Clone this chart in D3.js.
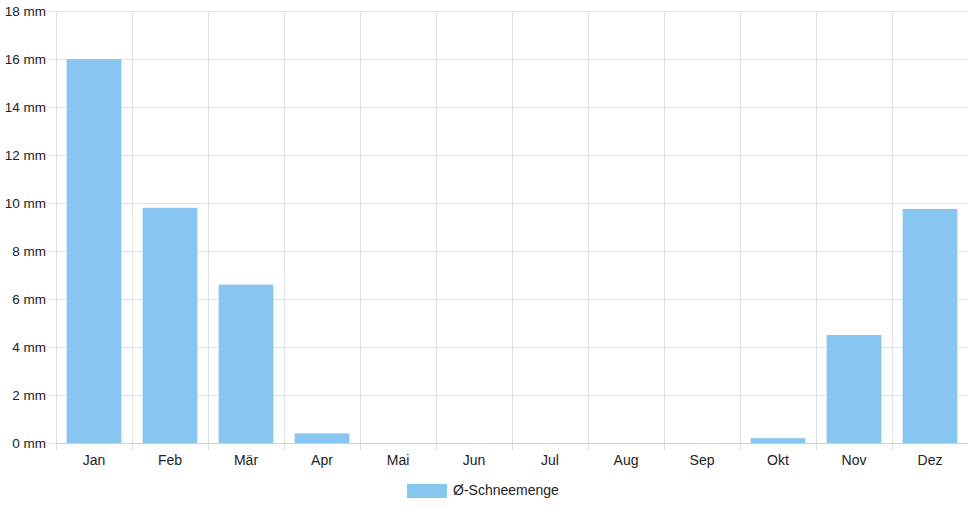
<!DOCTYPE html>
<html>
<head>
<meta charset="utf-8">
<script src="https://cdn.jsdelivr.net/npm/d3@7"></script>
<style>
  body { margin: 0; background: #fff; }
  text { font-family: "Liberation Sans", Arial, sans-serif; fill: #222; }
</style>
</head>
<body>
<div id="chart"></div>
<script>
// Monthly snow amounts
const months = ['Jan', 'Feb', 'Mär', 'Apr', 'Mai', 'Jun', 'Jul', 'Aug', 'Sep', 'Okt', 'Nov', 'Dez'];
const snow = [16.0, 9.8, 6.6, 0.4, 0, 0, 0, 0, 0, 0.2, 4.5, 9.75];
const yTicks = [0, 2, 4, 6, 8, 10, 12, 14, 16, 18];
const seriesName = 'Ø-Schneemenge';

const width = 968;
const height = 508;
const margin = { top: 11, right: 0, bottom: 65, left: 56 };
const barColor = '#88c6f2';
const gridColor = '#e3e3e3';

const svg = d3.select('#chart').append('svg')
  .attr('width', width)
  .attr('height', height);

const x = d3.scaleBand()
  .domain(months)
  .range([margin.left, width - margin.right]);

const y = d3.scaleLinear()
  .domain([0, 18])
  .range([height - margin.bottom, margin.top]);

// horizontal grid + y labels
const yAxis = svg.append('g')
  .attr('transform', `translate(${margin.left},0)`)
  .call(d3.axisLeft(y)
    .tickValues(yTicks)
    .tickSize(-(width - margin.left - margin.right))
    .tickPadding(10)
    .tickFormat(d => d + ' mm'));
yAxis.select('.domain').remove();
yAxis.selectAll('.tick line').attr('stroke', gridColor);
yAxis.selectAll('.tick text').attr('font-size', 13.5).attr('fill', '#222');
// short tick stubs left of the axis
yAxis.selectAll('.tick').append('line')
  .attr('x1', -8).attr('x2', 0)
  .attr('stroke', gridColor);

// vertical grid lines at category boundaries
const bounds = months.map(m => x(m));
svg.append('g').selectAll('line')
  .data(bounds)
  .enter()
  .append('line')
  .attr('x1', d => d + 0.5)
  .attr('x2', d => d + 0.5)
  .attr('y1', margin.top)
  .attr('y2', height - margin.bottom + 8)
  .attr('stroke', gridColor);

// zero line
svg.append('line')
  .attr('x1', margin.left)
  .attr('x2', width - margin.right)
  .attr('y1', y(0) + 0.5)
  .attr('y2', y(0) + 0.5)
  .attr('stroke', '#cfcfcf');

// bars: 0.9 * 0.8 of the category width
const barW = x.bandwidth() * 0.72;
svg.append('g').selectAll('rect')
  .data(snow)
  .enter()
  .append('rect')
  .attr('x', (d, i) => x(months[i]) + (x.bandwidth() - barW) / 2)
  .attr('y', d => y(d))
  .attr('width', barW)
  .attr('height', d => y(0) - y(d))
  .attr('fill', barColor);

// x labels
const xAxis = svg.append('g')
  .attr('transform', `translate(0,${height - margin.bottom})`)
  .call(d3.axisBottom(x).tickSize(0).tickPadding(12));
xAxis.select('.domain').remove();
xAxis.selectAll('.tick text').attr('font-size', 14).attr('fill', '#222');

// legend
const legend = svg.append('g').attr('transform', 'translate(407,484)');
legend.append('rect')
  .attr('width', 40)
  .attr('height', 14)
  .attr('fill', barColor);
legend.append('text')
  .attr('x', 46)
  .attr('y', 11)
  .attr('font-size', 14)
  .text(seriesName);
</script>
</body>
</html>
